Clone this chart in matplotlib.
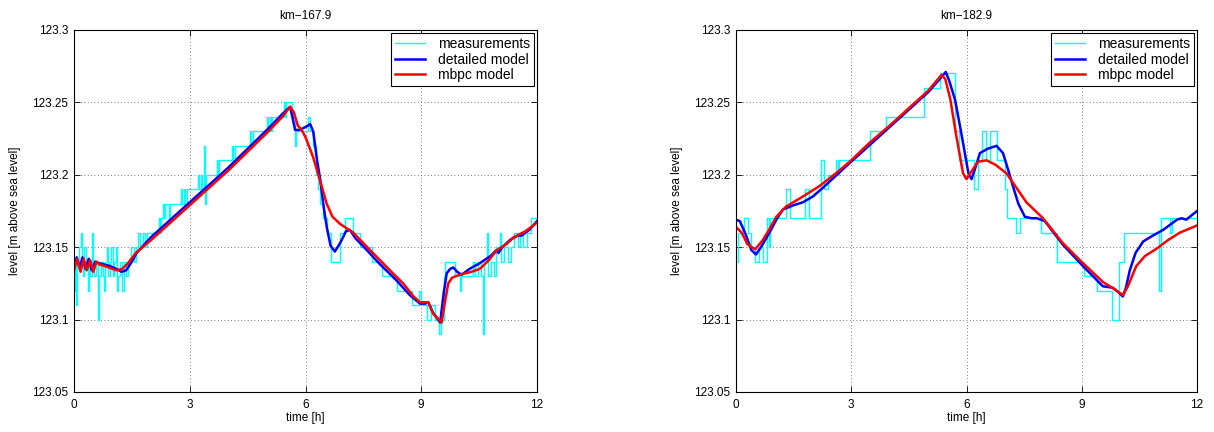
import numpy as np
import matplotlib
matplotlib.use("Agg")
import matplotlib.pyplot as plt

plt.rcParams['font.family'] = ['Liberation Sans', 'DejaVu Sans']
plt.rcParams['font.size'] = 8.5

# ---------------- left chart: km-167.9 ----------------
left_title = "km\u2212167.9"
left_meas_t = [0.00, 0.03, 0.06, 0.09, 0.13, 0.17, 0.20, 0.24, 0.27, 0.31, 0.35, 0.38, 0.42, 0.46,
               0.49, 0.53, 0.57, 0.62, 0.65, 0.70, 0.74, 0.78, 0.81, 0.86, 0.89, 0.93, 0.97, 1.00,
               1.04, 1.08, 1.11, 1.15, 1.20, 1.25, 1.29, 1.35, 1.40, 1.48, 1.55, 1.60, 1.66, 1.70,
               1.78, 1.85, 1.90, 2.20, 2.23, 2.26, 2.30, 2.33, 2.36, 2.45, 2.50, 2.78, 2.81, 2.85,
               2.88, 2.92, 3.22, 3.25, 3.29, 3.33, 3.37, 3.39, 3.41, 3.70, 3.73, 3.77, 4.09, 4.12,
               4.16, 4.56, 4.59, 4.63, 5.00, 5.03, 5.07, 5.10, 5.13, 5.43, 5.46, 5.50, 5.64,
               5.72, 5.75, 6.07, 6.12, 6.20, 6.26, 6.32, 6.38, 6.45, 6.55,
               6.65, 6.90, 7.02, 7.24, 7.40, 7.72, 7.97, 8.36, 8.75, 8.95, 9.00, 9.15, 9.25, 9.35,
               9.47, 9.52, 9.58, 9.62, 9.87, 10.00, 10.03, 10.35, 10.40, 10.48, 10.55, 10.60, 10.63,
               10.70, 10.73, 10.80, 10.88, 10.95, 11.04, 11.07, 11.15, 11.25, 11.32, 11.40, 11.50,
               11.55, 11.65, 11.73, 11.85, 12.00]
left_meas_v = [123.12, 123.14, 123.11, 123.14, 123.15, 123.16, 123.14, 123.13, 123.15, 123.14, 123.12,
               123.14, 123.13, 123.16, 123.14, 123.13, 123.14, 123.10, 123.13, 123.14, 123.13, 123.12,
               123.14, 123.15, 123.13, 123.14, 123.15, 123.13, 123.14, 123.15, 123.12, 123.13, 123.14,
               123.12, 123.14, 123.13, 123.14, 123.15, 123.14, 123.15, 123.16, 123.15, 123.16, 123.15,
               123.16, 123.17, 123.16, 123.17, 123.18, 123.17, 123.18, 123.17, 123.18, 123.19, 123.18,
               123.19, 123.18, 123.19, 123.20, 123.19, 123.20, 123.19, 123.22, 123.18, 123.20, 123.21,
               123.20, 123.21, 123.22, 123.21, 123.22, 123.23, 123.22, 123.23, 123.24, 123.23, 123.24,
               123.23, 123.24, 123.25, 123.24, 123.25, 123.24,
               123.22, 123.23, 123.24, 123.23, 123.22, 123.20,
               123.19, 123.18, 123.17, 123.16, 123.14, 123.16, 123.17, 123.16, 123.15, 123.14, 123.13,
               123.12, 123.11, 123.12, 123.11, 123.10, 123.11, 123.10, 123.09, 123.10, 123.13, 123.14,
               123.13, 123.12, 123.13, 123.14, 123.13, 123.14, 123.13, 123.09, 123.14, 123.16, 123.13,
               123.14, 123.13, 123.15, 123.16, 123.14, 123.15, 123.14, 123.15, 123.16, 123.15, 123.16,
               123.15, 123.16, 123.17, 123.17]
left_det_t = [0.00, 0.07, 0.15, 0.22, 0.30, 0.38, 0.46, 0.55, 0.65, 0.93, 1.10, 1.24, 1.35, 1.50, 1.62,
              2.00, 2.50, 3.00, 3.50, 4.00, 4.50, 5.00, 5.40, 5.60, 5.66, 5.73, 5.85, 6.00, 6.12, 6.20,
              6.30, 6.38, 6.47, 6.55, 6.65, 6.76, 6.90, 7.05, 7.15, 7.30, 7.59, 7.90, 8.36, 8.70, 8.97,
              9.10, 9.18, 9.30, 9.49, 9.58, 9.66, 9.75, 9.83, 9.93, 10.05, 10.25, 10.52, 10.80, 10.95,
              11.00, 11.10, 11.30, 11.50, 11.60, 11.80, 12.00]
left_det_v = [123.136, 123.143, 123.136, 123.143, 123.135, 123.142, 123.134, 123.140, 123.139, 123.137,
              123.135, 123.133, 123.134, 123.140, 123.146, 123.157, 123.169, 123.181, 123.193, 123.205,
              123.218, 123.231, 123.242, 123.247, 123.240, 123.231, 123.231, 123.233, 123.235, 123.230,
              123.210, 123.197, 123.178, 123.164, 123.151, 123.147, 123.153, 123.161, 123.162, 123.156,
              123.148, 123.139, 123.127, 123.117, 123.111, 123.111, 123.112, 123.105, 123.098, 123.118,
              123.132, 123.135, 123.136, 123.133, 123.131, 123.135, 123.139, 123.144, 123.148, 123.146,
              123.150, 123.155, 123.158, 123.158, 123.162, 123.168]
left_mbpc_t = [0.00, 0.08, 0.17, 0.25, 0.33, 0.42, 0.50, 0.58, 0.66, 0.80, 1.00, 1.10, 1.25, 1.40, 1.60,
               2.00, 2.50, 3.00, 3.50, 4.00, 4.50, 5.00, 5.40, 5.60, 5.70, 5.80, 5.90, 6.00, 6.20, 6.42,
               6.55, 6.70, 6.90, 7.24, 7.60, 7.93, 8.30, 8.53, 8.80, 8.97, 9.18, 9.31, 9.53, 9.60, 9.70,
               9.80, 10.00, 10.30, 10.52, 10.75, 10.96, 11.20, 11.40, 11.70, 12.00]
left_mbpc_v = [123.134, 123.142, 123.133, 123.142, 123.134, 123.141, 123.133, 123.140, 123.138, 123.137,
               123.135, 123.134, 123.135, 123.139, 123.146, 123.155, 123.167, 123.179, 123.191, 123.203,
               123.216, 123.229, 123.240, 123.247, 123.243, 123.234, 123.231, 123.226, 123.212, 123.192,
               123.180, 123.171, 123.166, 123.160, 123.150, 123.141, 123.131, 123.125, 123.116, 123.112,
               123.112, 123.104, 123.098, 123.110, 123.125, 123.129, 123.131, 123.133, 123.135, 123.141,
               123.148, 123.152, 123.157, 123.161, 123.167]

# ---------------- right chart: km-182.9 ----------------
right_title = "km\u2212182.9"
right_meas_t = [0.0, 0.05, 0.1, 0.2, 0.3, 0.4, 0.5, 0.6, 0.7, 0.8, 0.85, 0.88, 1.3, 1.4, 1.8, 1.9,
                2.2, 2.3, 2.4, 2.6, 2.65, 2.68,
                3.5, 3.9, 4.9, 5.3, 5.7, 5.8, 6.2, 6.3, 6.4, 6.5, 6.6, 6.8, 7.0, 7.05, 7.3, 7.4, 7.93,
                8.36, 9.05, 9.4, 9.8, 9.97, 10.1, 11.0, 11.07, 11.3, 11.35, 12.0]
right_meas_v = [123.14, 123.16, 123.16, 123.17, 123.16, 123.15, 123.14, 123.15, 123.14, 123.17, 123.15,
                123.17, 123.19, 123.17,
                123.19, 123.17, 123.21, 123.19, 123.20, 123.21, 123.20, 123.21, 123.23, 123.24, 123.26,
                123.27, 123.23,
                123.21, 123.19, 123.21, 123.23, 123.21, 123.23, 123.21, 123.19, 123.17, 123.16, 123.17,
                123.16, 123.14, 123.13, 123.12, 123.10, 123.14, 123.16, 123.12, 123.17, 123.16, 123.17,
                123.17]
right_det_t = [0.00, 0.10, 0.25, 0.40, 0.52, 0.65, 0.87, 1.05, 1.22, 1.50, 1.74, 2.00, 2.26, 2.87, 3.50,
               4.00, 4.50, 5.00, 5.30, 5.46, 5.55, 5.70, 5.80, 5.91, 6.05, 6.13, 6.22, 6.35, 6.55, 6.78,
               6.95, 7.10, 7.21, 7.35, 7.52, 7.70, 7.83, 8.04, 8.50, 9.03, 9.40, 9.55, 9.81, 9.95, 10.07,
               10.15, 10.25, 10.40, 10.60, 10.85, 11.12, 11.48, 11.60, 11.72, 12.00]
right_det_v = [123.169, 123.168, 123.159, 123.148, 123.145, 123.150, 123.160, 123.169, 123.176, 123.179,
               123.181, 123.185, 123.191, 123.206, 123.221, 123.233, 123.245, 123.257, 123.266, 123.271,
               123.265, 123.252, 123.238, 123.222, 123.201, 123.197, 123.204, 123.215, 123.218, 123.220,
               123.215, 123.202, 123.192, 123.180, 123.171, 123.170, 123.170, 123.168, 123.152, 123.137,
               123.127, 123.123, 123.122, 123.119, 123.116, 123.122, 123.134, 123.146, 123.154, 123.158,
               123.162, 123.169, 123.170, 123.169, 123.175]
right_mbpc_t = [0.00, 0.15, 0.30, 0.50, 0.70, 0.86, 1.05, 1.30, 1.74, 2.16, 2.60, 3.00, 3.47, 4.00, 4.50,
                5.00, 5.35, 5.45, 5.58, 5.74, 5.91, 6.00, 6.12, 6.30, 6.52, 6.75, 7.04, 7.30, 7.56, 7.99,
                8.50, 9.03, 9.55, 9.85, 10.07, 10.20, 10.42, 10.65, 10.95, 11.25, 11.55, 12.00]
right_mbpc_v = [123.164, 123.160, 123.152, 123.1485, 123.155, 123.162, 123.171, 123.178, 123.185, 123.192,
                123.201, 123.210, 123.222, 123.234, 123.246, 123.258, 123.269, 123.266, 123.252, 123.226,
                123.201, 123.197, 123.202, 123.209, 123.210, 123.207, 123.201, 123.191, 123.181, 123.170,
                123.153, 123.139, 123.126, 123.121, 123.117, 123.123, 123.137, 123.144, 123.149, 123.155,
                123.160, 123.165]

xticks = [0, 3, 6, 9, 12]
yticks = [123.05, 123.1, 123.15, 123.2, 123.25, 123.3]
ytick_labels = ["123.05", "123.1", "123.15", "123.2", "123.25", "123.3"]
series_labels = ["measurements", "detailed model", "mbpc model"]

fig = plt.figure(figsize=(12.14, 4.32), dpi=100)
ax1 = fig.add_axes([74 / 1214, 40 / 432, 463 / 1214, 362 / 432])
ax2 = fig.add_axes([736 / 1214, 40 / 432, 461 / 1214, 362 / 432])

panels = [
    (ax1, left_title, left_meas_t, left_meas_v, left_det_t, left_det_v, left_mbpc_t, left_mbpc_v),
    (ax2, right_title, right_meas_t, right_meas_v, right_det_t, right_det_v, right_mbpc_t, right_mbpc_v),
]

for ax, title, mt, mv, dt, dv, pt, pv in panels:
    ax.plot(mt, mv, color=(0, 1, 1), lw=1.0, drawstyle='steps-post', label=series_labels[0])
    ax.plot(dt, dv, color=(0, 0, 1), lw=1.8, label=series_labels[1])
    ax.plot(pt, pv, color=(1, 0, 0), lw=1.8, label=series_labels[2])
    ax.set_xlim(0, 12)
    ax.set_ylim(123.05, 123.3)
    ax.set_xticks(xticks)
    ax.set_xticklabels([str(x) for x in xticks])
    ax.set_yticks(yticks)
    ax.set_yticklabels(ytick_labels)
    ax.grid(True, linestyle=(0, (1, 3)), color='#555555', linewidth=0.6)
    ax.tick_params(direction='in', length=4, width=0.6, top=True, right=True)
    ax.tick_params(axis='x', pad=5)
    ax.tick_params(axis='y', pad=4)
    for s in ax.spines.values():
        s.set_linewidth(0.8)
    ax.set_title(title, fontsize=8.5, pad=8)
    ax.set_xlabel("time [h]", labelpad=1)
    ax.set_ylabel("level [m above sea level]", labelpad=8)
    leg = ax.legend(loc='upper right', fancybox=False, edgecolor='black', framealpha=1,
                    handlelength=2.2, borderaxespad=0.25, borderpad=0.25, labelspacing=0.12,
                    handletextpad=0.9, fontsize=10)
    leg.get_frame().set_linewidth(0.8)

fig.savefig("out.png", dpi=100)
